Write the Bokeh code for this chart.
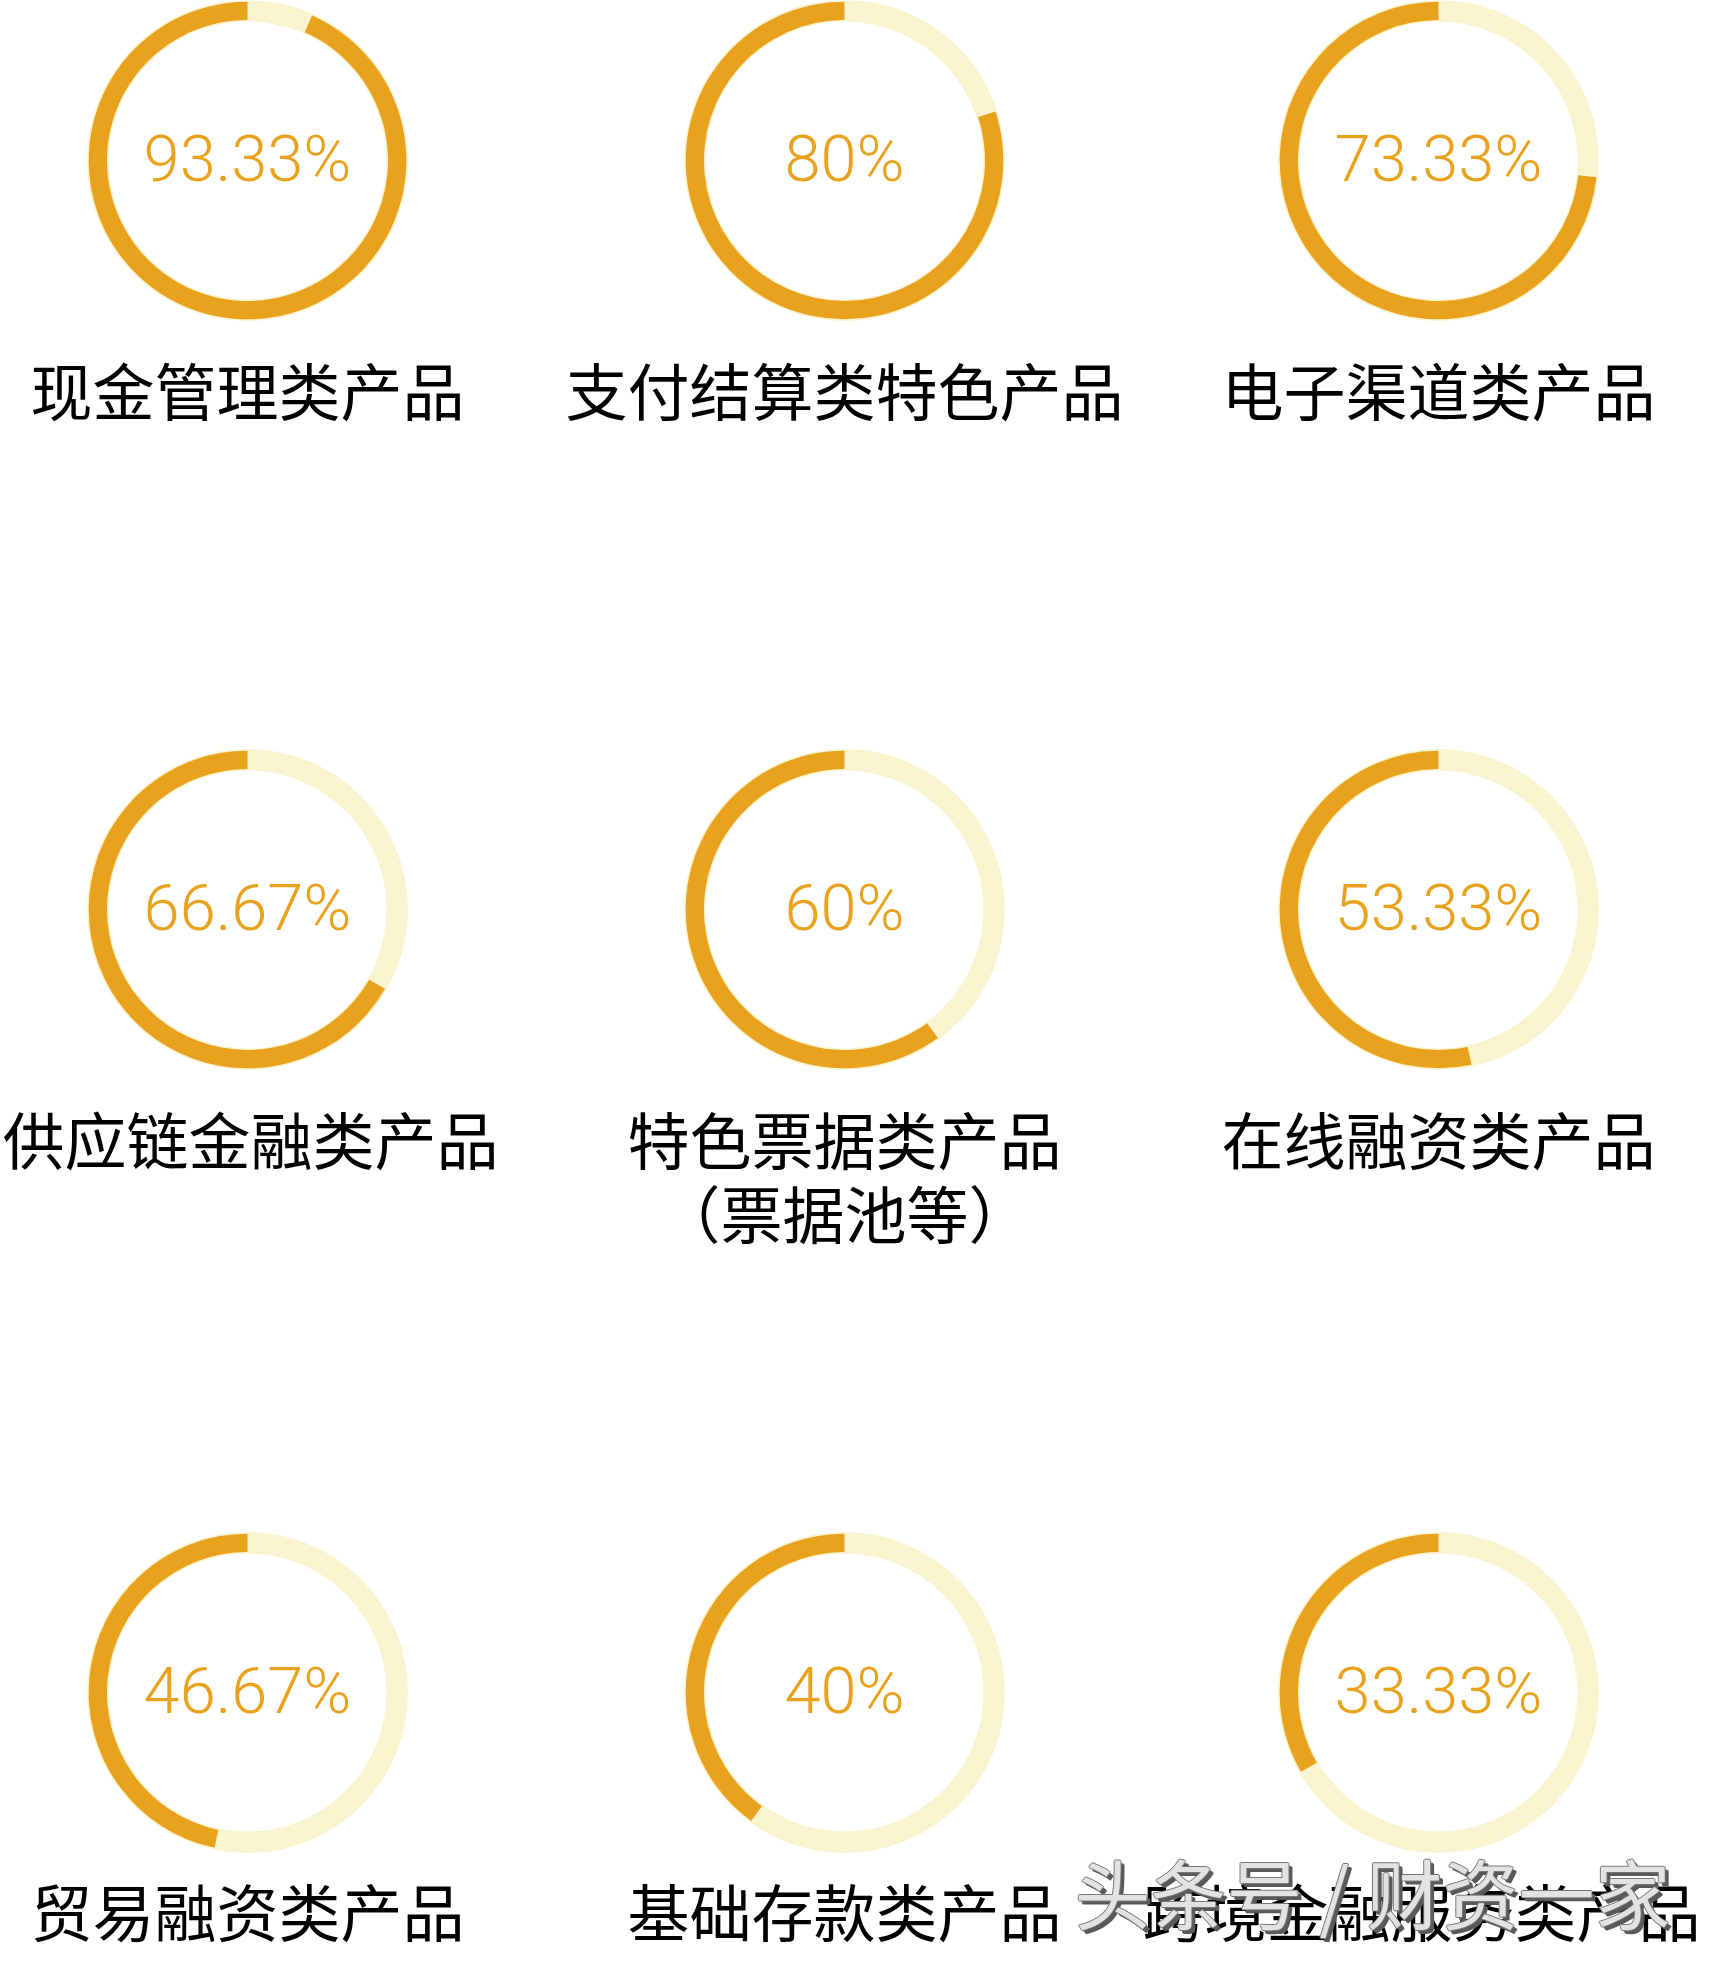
import math
from bokeh.plotting import figure
from bokeh.models import Range1d, ColumnDataSource
from bokeh.core.properties import value
from bokeh.embed import file_html
from bokeh.resources import INLINE

# ---- data ----
categories = [
    "现金管理类产品", "支付结算类特色产品", "电子渠道类产品",
    "供应链金融类产品", "特色票据类产品\n（票据池等）", "在线融资类产品",
    "贸易融资类产品", "基础存款类产品", "跨境金融服务类产品",
]
values = [93.33, 80, 73.33, 66.67, 60, 53.33, 46.67, 40, 33.33]
value_labels = ["93.33%", "80%", "73.33%", "66.67%", "60%", "53.33%", "46.67%", "40%", "33.33%"]
watermark = "头条号 / 财资一家"

# ---- layout constants (screen pixels) ----
W, H = 1719, 1963
FIG_W, FIG_H = W - 16, H - 8
col_x = [247, 844, 1438]
row_y_screen = [160, 909, 1692]
label_y_screen = [388, 1137, 1909]
LINE_GAP = 74
LABEL_PX = 62
R_LIGHT_OUT, R_LIGHT_IN = 160.5, 139
R_OUT, R_IN = 158.8, 140.5
ORANGE = "#E9A21D"
LIGHT = "#FAF3D0"

def sy(y):
    return H - y

xs, ys, starts, ends, lxs, lys, ltexts = [], [], [], [], [], [], []
for i, (cat, v) in enumerate(zip(categories, values)):
    r, c = divmod(i, 3)
    cx, cy = col_x[c], sy(row_y_screen[r])
    xs.append(cx)
    ys.append(cy)
    starts.append(math.pi / 2)
    ends.append(math.pi / 2 + 2 * math.pi * v / 100.0)
    for j, line in enumerate(cat.split("\n")):
        half = len(line) * LABEL_PX / 2
        lxs.append(min(max(cx, half + 2), FIG_W - half - 3))
        lys.append(sy(label_y_screen[r] + j * LINE_GAP))
        ltexts.append(line)

ring_src = ColumnDataSource(dict(x=xs, y=ys, start=starts, end=ends, lab=value_labels,
                                 ty=[y + 1.5 for y in ys]))
lab_src = ColumnDataSource(dict(x=lxs, y=lys, text=ltexts))

p = figure(width=FIG_W, height=FIG_H,
           x_range=Range1d(0, FIG_W), y_range=Range1d(H - FIG_H, H),
           output_backend="svg", toolbar_location=None, min_border=0)
p.axis.visible = False
p.xgrid.visible = False
p.ygrid.visible = False
p.outline_line_color = None
p.background_fill_color = "white"
p.border_fill_color = "white"

# background light ring
p.annulus(x="x", y="y", inner_radius=R_LIGHT_IN, outer_radius=R_LIGHT_OUT,
          fill_color=LIGHT, line_color=None, source=ring_src)
# orange progress arc (counter-clockwise from top)
p.annular_wedge(x="x", y="y", inner_radius=R_IN, outer_radius=R_OUT,
                start_angle="start", end_angle="end", direction="anticlock",
                fill_color=ORANGE, line_color=None, source=ring_src)

# percentage texts
p.text(x="x", y="ty", text="lab", source=ring_src,
       text_font=value("'Roboto Light', 'Lato Light', 'Liberation Sans', sans-serif"),
       text_font_size="65px", text_color=ORANGE,
       text_align="center", text_baseline="middle")

# category labels
p.text(x="x", y="y", text="text", source=lab_src,
       text_font=value("Noto Sans CJK SC"), text_font_size=f"{LABEL_PX}px",
       text_color="black", text_align="center", text_baseline="middle")

# watermark (outlined, shadowed)
WM_X, WM_Y = 1372, 1890
wm_font = value("Noto Sans CJK SC")
for dx, dy, col in [(4, 4, "#5A5A5A"), (3, 3, "#5A5A5A"), (-1, 0, "#777777"),
                    (1, 0, "#777777"), (0, -1, "#777777"), (0, 1, "#777777")]:
    src = ColumnDataSource(dict(x=[WM_X + dx], y=[sy(WM_Y + dy)], text=[watermark]))
    p.text(x="x", y="y", text="text", source=src, text_font=wm_font,
           text_font_size="76px", text_color=col, text_align="center",
           text_baseline="middle")
wm_src = ColumnDataSource(dict(x=[WM_X], y=[sy(WM_Y)], text=[watermark]))
p.text(x="x", y="y", text="text", source=wm_src, text_font=wm_font,
       text_font_size="76px", text_color="#E2E2E2", text_align="center",
       text_baseline="middle")

open("out.html", "w").write(file_html(p, INLINE))
